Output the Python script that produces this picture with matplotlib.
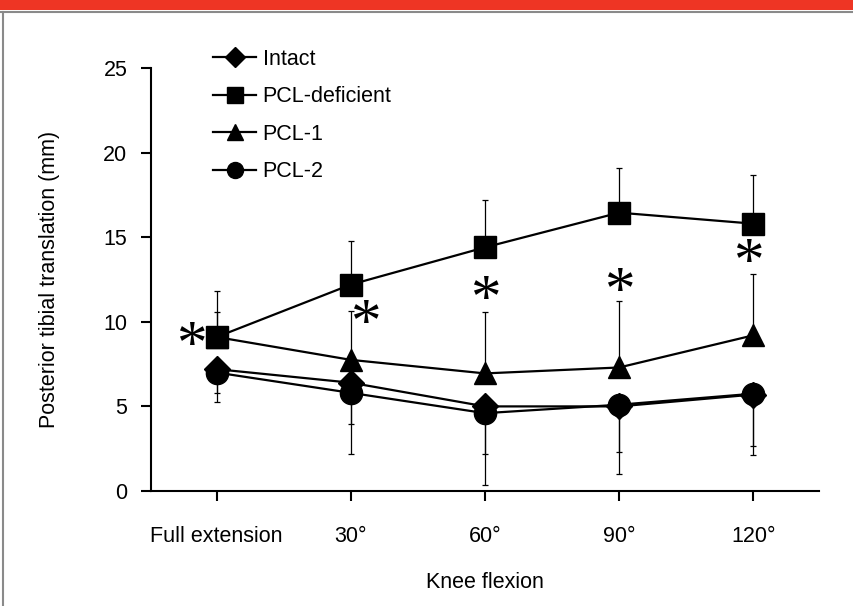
import matplotlib.pyplot as plt
from matplotlib.patches import Rectangle
from matplotlib.lines import Line2D
import numpy as np

plt.rcParams['font.family'] = ['Liberation Sans', 'DejaVu Sans']

# Knee flexion angles
angles = ['Full extension', '30°', '60°', '90°', '120°']

# Mean posterior tibial translation (mm)
intact = [7.2, 6.4, 5.0, 5.0, 5.7]
deficient = [9.1, 12.2, 14.4, 16.45, 15.8]
pcl1 = [9.1, 7.75, 6.95, 7.3, 9.2]
pcl2 = [7.0, 5.8, 4.6, 5.1, 5.75]

# one-sided standard deviations (upper for deficient/PCL-1, lower for intact/PCL-2)
deficient_sd = [2.7, 2.6, 2.8, 2.65, 2.9]
pcl1_sd = [1.5, 2.9, 3.65, 3.9, 3.6]
intact_sd = [1.4, 2.45, 2.8, 2.7, 3.05]
pcl2_sd = [1.75, 3.6, 4.25, 4.1, 3.6]

# significance markers (x index, y value)
sig_x = [-0.19, 1.11, 2.0, 3.0, 3.96]
sig_y = [8.9, 10.2, 11.6, 12.05, 13.8]

x = np.arange(len(angles))

fig = plt.figure(figsize=(8.54, 6.06), dpi=100)

# page decoration: red header band and grey frame
fig.patches.append(Rectangle((0, 1 - 10 / 606), 1, 10 / 606, transform=fig.transFigure,
                             facecolor='#ee3524', edgecolor='none'))
fig.lines.append(Line2D([0, 1], [1 - 11.5 / 606] * 2, transform=fig.transFigure,
                        color='#8a8a8a', lw=1.5))
fig.lines.append(Line2D([2.5 / 854] * 2, [0, 1 - 11.5 / 606], transform=fig.transFigure,
                        color='#8a8a8a', lw=1.5))

ax = fig.add_axes([151 / 854, 115 / 606, 668 / 854, 423 / 606])

zeros = np.zeros(len(x))
eb = dict(ecolor='black', elinewidth=0.9, capsize=2.5, capthick=0.9)
ms = 16

ax.errorbar(x, deficient, yerr=[zeros, deficient_sd], fmt='none', zorder=1, **eb)
ax.errorbar(x, pcl1, yerr=[zeros, pcl1_sd], fmt='none', zorder=1, **eb)
ax.errorbar(x, intact, yerr=[intact_sd, zeros], fmt='none', zorder=1, **eb)
ax.errorbar(x, pcl2, yerr=[pcl2_sd, zeros], fmt='none', zorder=1, **eb)

ax.plot(x, intact, color='black', lw=1.6, marker='D', ms=ms * 0.85, label='Intact', zorder=3)
ax.plot(x, deficient, color='black', lw=1.6, marker='s', ms=ms, label='PCL-deficient', zorder=3)
ax.plot(x, pcl1, color='black', lw=1.6, marker='^', ms=ms, label='PCL-1', zorder=3)
ax.plot(x, pcl2, color='black', lw=1.6, marker='o', ms=ms, label='PCL-2', zorder=3)

for sx, sy in zip(sig_x, sig_y):
    ax.text(sx, sy, '*', family='Liberation Serif', fontsize=44,
            ha='center', va='center_baseline', zorder=4)

ax.set_xlim(-0.49, 4.49)
ax.set_ylim(0, 25)
ax.set_xticks(x)
ax.set_xticklabels(angles)
ax.set_yticks([0, 5, 10, 15, 20, 25])

for s in ['top', 'right']:
    ax.spines[s].set_visible(False)
for s in ['left', 'bottom']:
    ax.spines[s].set_linewidth(1.5)

ax.tick_params(axis='both', direction='out', length=7, width=1.5, labelsize=15.5)
ax.tick_params(axis='x', pad=18)
ax.tick_params(axis='y', pad=10)

ax.set_xlabel('Knee flexion', fontsize=15.5, labelpad=18)
ax.set_ylabel('Posterior tibial translation (mm)', fontsize=15.5, labelpad=31)

fig.legend(loc='upper left', bbox_to_anchor=(213 / 854, 1 - 49 / 606), frameon=False,
           fontsize=15.5, markerscale=0.72, handlelength=2.0, handletextpad=0.3,
           labelspacing=0.76, borderpad=0, borderaxespad=0)

fig.savefig('out.png', dpi=100)
